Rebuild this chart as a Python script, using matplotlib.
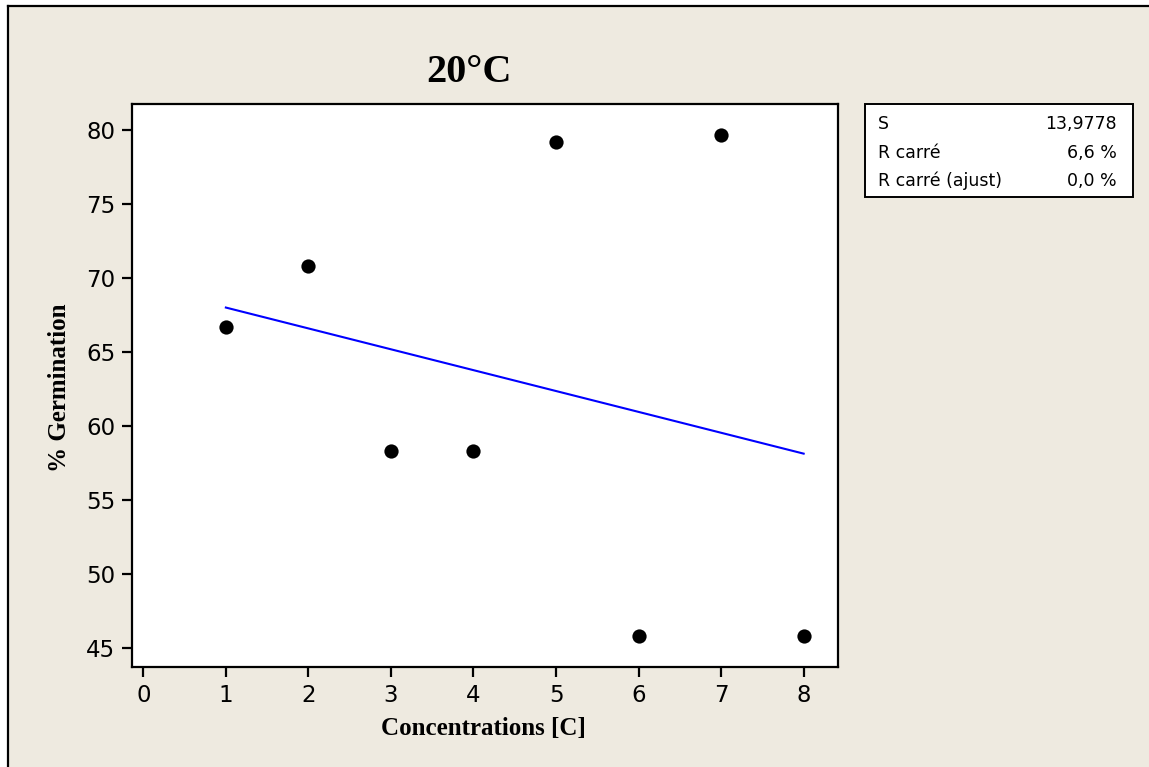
import numpy as np
import matplotlib
matplotlib.use("Agg")
import matplotlib.pyplot as plt
from matplotlib.patches import Rectangle
from matplotlib.lines import Line2D

# Data
concentrations = [1, 2, 3, 4, 5, 6, 7, 8]
germination = [66.67, 70.83, 58.33, 58.33, 79.17, 45.83, 79.66, 45.83]
x_ticks = [0, 1, 2, 3, 4, 5, 6, 7, 8]
y_ticks = [45, 50, 55, 60, 65, 70, 75, 80]
stat_labels = ["S", "R carré", "R carré (ajust)"]
stat_values = ["13,9778", "6,6 %", "0,0 %"]
title = "20°C"
xlabel = "Concentrations [C]"
ylabel = "% Germination"

W, H = 1149, 767
DPI = 100
BG = "#EEEAE0"

fig = plt.figure(figsize=(W / DPI, H / DPI), dpi=DPI, facecolor="white")

def fx(px):
    return px / W

def fy(py):
    return 1 - py / H

# beige panel with black left/top border
fig.add_artist(Rectangle((fx(7.5), -0.1), 1.2, fy(6) + 0.1, transform=fig.transFigure,
                         facecolor=BG, edgecolor="none", zorder=0))
fig.add_artist(Line2D([fx(7.5), fx(7.5)], [-0.1, fy(6)], transform=fig.transFigure,
                      color="black", lw=1.6, zorder=1))
fig.add_artist(Line2D([fx(7.5), 1.1], [fy(6), fy(6)], transform=fig.transFigure,
                      color="black", lw=1.6, zorder=1))

# axes
ax_l, ax_r, ax_t, ax_b = 132, 838, 104, 667
ax = fig.add_axes([fx(ax_l), fy(ax_b), fx(ax_r - ax_l), (ax_b - ax_t) / H])
ax.set_facecolor("white")

ax.scatter(concentrations, germination, s=105, color="black", zorder=3, linewidths=0)
coef = np.polyfit(concentrations, germination, 1)
xs = np.array([min(concentrations), max(concentrations)])
ax.plot(xs, np.polyval(coef, xs), color="#0000FF", lw=1.5, zorder=2)

ax.set_xlim(-0.137, 8.416)
ax.set_ylim(43.74, 81.76)
ax.set_xticks(x_ticks)
ax.set_yticks(y_ticks)
for s in ax.spines.values():
    s.set_linewidth(1.6)
ax.tick_params(direction="out", length=7, width=1.6, labelsize=16.5, pad=5)
for lab in ax.get_xticklabels() + ax.get_yticklabels():
    lab.set_fontfamily("DejaVu Sans")

fig.text(fx(469), fy(72), title, ha="center", va="center",
         fontfamily="Liberation Serif", fontweight="bold", fontsize=29)
fig.text(fx(483), fy(728), xlabel, ha="center", va="center",
         fontfamily="Liberation Serif", fontweight="bold", fontsize=18)
fig.text(fx(60), fy(388), ylabel, ha="center", va="center", rotation=90,
         fontfamily="Liberation Serif", fontweight="bold", fontsize=18)

# stats box
bx_l, bx_r, bx_t, bx_b = 865, 1133, 104, 197
fig.add_artist(Rectangle((fx(bx_l), fy(bx_b)), fx(bx_r - bx_l), (bx_b - bx_t) / H,
                         transform=fig.transFigure, facecolor="white",
                         edgecolor="black", lw=1.4, zorder=2))
rows_y = [124, 153, 181]
for lab, val, ry in zip(stat_labels, stat_values, rows_y):
    fig.text(fx(878), fy(ry), lab, ha="left", va="center", fontsize=12.5,
             fontfamily="DejaVu Sans", zorder=3)
    fig.text(fx(1117), fy(ry), val, ha="right", va="center", fontsize=12.5,
             fontfamily="DejaVu Sans", zorder=3)

fig.savefig("out.png", dpi=DPI, facecolor=fig.get_facecolor())
